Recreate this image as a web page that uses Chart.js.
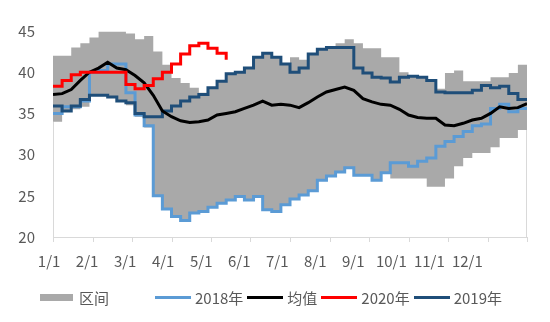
<!DOCTYPE html>
<html>
<head>
<meta charset="utf-8">
<script src="https://cdn.jsdelivr.net/npm/chart.js@4/dist/chart.umd.min.js"></script>
<style>
    html, body { margin: 0; padding: 0; background: #fff; }
    #wrap { position: relative; width: 550px; height: 322px; }
    #legend {
        position: absolute; left: 40px; top: 287px;
        display: flex; align-items: center;
        font: 15px "Noto Sans CJK SC", sans-serif; color: #595959;
    }
    .item { display: flex; align-items: center; margin-right: 4px; }
    .item .line { width: 36px; height: 3px; margin-right: 4px; }
    .item .box { width: 33px; height: 7px; margin-right: 6px; }
    .item.band { margin-right: 46px; }
</style>
</head>
<body>
<div id="wrap">
    <canvas id="priceChart" width="550" height="322"></canvas>
    <div id="legend"></div>
</div>
<script>
// Month labels along the bottom axis
const monthLabels = ['1/1', '2/1', '3/1', '4/1', '5/1', '6/1', '7/1', '8/1', '9/1', '10/1', '11/1', '12/1'];

// Weekly values (one per week from 1/1)
const bandHigh = [
    42.0, 42.0, 43.0, 43.5, 44.2, 44.9, 44.9, 44.9, 44.7, 44.0,
    44.4, 42.5, 40.9, 39.3, 38.7, 38.1, 37.5, 38.1, 38.9, 39.8,
    40.0, 40.5, 41.8, 42.3, 41.8, 41.0, 41.8, 41.5, 42.2, 42.8,
    43.0, 43.5, 44.0, 43.5, 42.9, 42.9, 41.8, 41.8, 40.0, 39.6,
    39.4, 39.0, 38.0, 39.9, 40.2, 38.9, 38.9, 38.9, 39.4, 39.4,
    39.9, 40.9, 40.9
];
const bandLow = [
    34.0, 35.2, 35.5, 35.8, 37.2, 37.2, 37.0, 36.5, 36.0, 34.6,
    33.3, 25.0, 23.4, 22.5, 22.0, 22.9, 23.1, 23.6, 24.1, 24.5,
    24.9, 24.5, 24.9, 23.3, 23.1, 23.9, 24.6, 25.1, 25.6, 26.9,
    27.4, 27.9, 28.4, 27.5, 27.5, 26.9, 27.8, 27.1, 27.1, 27.1,
    27.1, 26.1, 26.1, 27.1, 28.6, 29.6, 30.2, 30.2, 30.9, 32.0,
    32.0, 33.0, 33.0
];
const y2018 = [
    35.0, 35.8, 35.8, 36.5, 40.0, 40.2, 41.0, 41.0, 37.5, 34.8,
    33.5, 25.0, 23.4, 22.5, 22.0, 22.9, 23.1, 23.6, 24.1, 24.5,
    24.9, 24.5, 24.9, 23.3, 23.1, 23.9, 24.6, 25.1, 25.6, 26.9,
    27.4, 27.9, 28.4, 27.5, 27.5, 26.9, 27.8, 29.0, 29.0, 28.6,
    29.2, 29.6, 31.0, 31.6, 32.2, 32.8, 33.5, 33.7, 35.6, 36.1,
    35.2, 35.6, 35.7
];
const yMean = [
    37.3, 37.4, 37.9, 39.0, 40.0, 40.5, 41.2, 40.5, 40.3, 39.6,
    38.7, 37.2, 35.3, 34.6, 34.1, 33.9, 34.0, 34.2, 34.8, 35.0,
    35.2, 35.6, 36.0, 36.5, 36.0, 36.1, 36.0, 35.7, 36.3, 37.0,
    37.6, 37.9, 38.2, 37.8, 36.8, 36.4, 36.1, 36.0, 35.5, 34.8,
    34.5, 34.4, 34.4, 33.6, 33.5, 33.8, 34.2, 34.4, 35.0, 35.8,
    35.6, 35.7, 36.2
];
const y2020 = [
    38.3, 39.0, 39.7, 40.0, 40.0, 40.0, 40.0, 40.0, 38.5, 38.0,
    38.4, 39.2, 40.0, 41.0, 42.2, 43.2, 43.5, 42.9, 42.3, 41.5
];
const y2019 = [
    35.9, 35.3, 35.9, 36.7, 37.2, 37.2, 37.0, 36.5, 36.3, 35.0,
    34.6, 34.6, 35.3, 35.9, 36.5, 37.0, 37.3, 38.1, 38.9, 39.8,
    40.0, 40.5, 41.8, 42.3, 41.8, 41.0, 40.0, 40.5, 42.2, 42.8,
    43.0, 43.0, 43.0, 40.5, 39.9, 39.4, 39.3, 38.8, 39.4, 39.5,
    39.4, 39.0, 37.6, 37.5, 37.5, 37.5, 37.8, 38.4, 38.1, 38.3,
    37.4, 36.7, 36.5
];

const yTicks = { min: 20, max: 45, step: 5 };

const colors = {
    band: '#a9a9a9',
    y2018: '#5b9bd5',
    mean: '#000000',
    y2020: '#ff0000',
    y2019: '#1f4e79',
    axis: '#d9d9d9',
    text: '#595959'
};

// x is day of year, one point per week
const toPoints = arr => arr.map((v, i) => ({ x: i * 7, y: v }));

// small tick marks at month boundaries, plus the faint side edges of the band area
const frameMarks = {
    id: 'frameMarks',
    beforeDatasetsDraw(chart) {
        const { ctx, chartArea, scales } = chart;
        const { left, right, bottom } = chartArea;
        ctx.save();
        ctx.strokeStyle = colors.axis;
        ctx.lineWidth = 1;
        ctx.beginPath();
        for (let m = 0; m <= 12; m++) {
            const px = Math.round(scales.x.getPixelForValue(m * 364 / 12)) + 0.5;
            ctx.moveTo(px, bottom);
            ctx.lineTo(px, bottom + 5);
        }
        ctx.moveTo(left + 0.5, bottom);
        ctx.lineTo(left + 0.5, scales.y.getPixelForValue(bandLow[0]));
        ctx.moveTo(right - 0.5, bottom);
        ctx.lineTo(right - 0.5, scales.y.getPixelForValue(bandLow[bandLow.length - 1]));
        ctx.stroke();
        ctx.restore();
    }
};

const lineStyle = {
    borderWidth: 3,
    pointRadius: 0,
    fill: false
};

const chart = new Chart(document.getElementById('priceChart'), {
    type: 'line',
    data: {
        datasets: [
            {
                label: '区间', data: toPoints(bandHigh), stepped: true,
                backgroundColor: colors.band, borderWidth: 0, pointRadius: 0,
                fill: '+1', order: 10
            },
            {
                label: '', data: toPoints(bandLow), stepped: true,
                borderWidth: 0, pointRadius: 0, fill: false, order: 11
            },
            { ...lineStyle, label: '2018年', data: toPoints(y2018), stepped: true, borderColor: colors.y2018, order: 3 },
            { ...lineStyle, label: '均值', data: toPoints(yMean), borderColor: colors.mean, order: 1 },
            { ...lineStyle, label: '2020年', data: toPoints(y2020), stepped: true, borderColor: colors.y2020, order: 0 },
            { ...lineStyle, label: '2019年', data: toPoints(y2019), stepped: true, borderColor: colors.y2019, order: 2 }
        ]
    },
    options: {
        responsive: false,
        animation: false,
        devicePixelRatio: 1,
        layout: { padding: { top: 31, right: 23, bottom: 45, left: 0 } },
        plugins: {
            legend: { display: false },
            tooltip: { enabled: false }
        },
        scales: {
            x: {
                type: 'linear',
                min: 0,
                max: 364,
                grid: { display: false },
                border: { display: true, color: colors.axis, width: 1 },
                afterBuildTicks: axis => {
                    // labels run a little ahead of the month boundaries
                    axis.ticks = monthLabels.map((l, i) => ({ value: -3 + i * 29.2 }));
                },
                afterFit: axis => { axis.height = 40; },
                ticks: {
                    autoSkip: false,
                    maxRotation: 0,
                    padding: 7,
                    color: colors.text,
                    font: { family: '"Noto Sans CJK SC", sans-serif', size: 15 },
                    callback: (value, index) => monthLabels[index]
                }
            },
            y: {
                min: yTicks.min,
                max: yTicks.max,
                grid: { display: false },
                border: { display: false },
                afterFit: axis => { axis.width = 53; },
                ticks: {
                    stepSize: yTicks.step,
                    padding: 10,
                    color: colors.text,
                    font: { family: '"Noto Sans CJK SC", sans-serif', size: 15 }
                }
            }
        }
    },
    plugins: [frameMarks]
});

// Legend below the chart
const legendItems = [
    { label: '区间', color: colors.band, kind: 'box' },
    { label: '2018年', color: colors.y2018, kind: 'line' },
    { label: '均值', color: colors.mean, kind: 'line' },
    { label: '2020年', color: colors.y2020, kind: 'line' },
    { label: '2019年', color: colors.y2019, kind: 'line' }
];
const legend = document.getElementById('legend');
legendItems.forEach(item => {
    const el = document.createElement('div');
    el.className = 'item' + (item.kind === 'box' ? ' band' : '');
    const sw = document.createElement('span');
    sw.className = item.kind;
    sw.style.background = item.color;
    const txt = document.createElement('span');
    txt.textContent = item.label;
    el.appendChild(sw);
    el.appendChild(txt);
    legend.appendChild(el);
});
</script>
</body>
</html>
